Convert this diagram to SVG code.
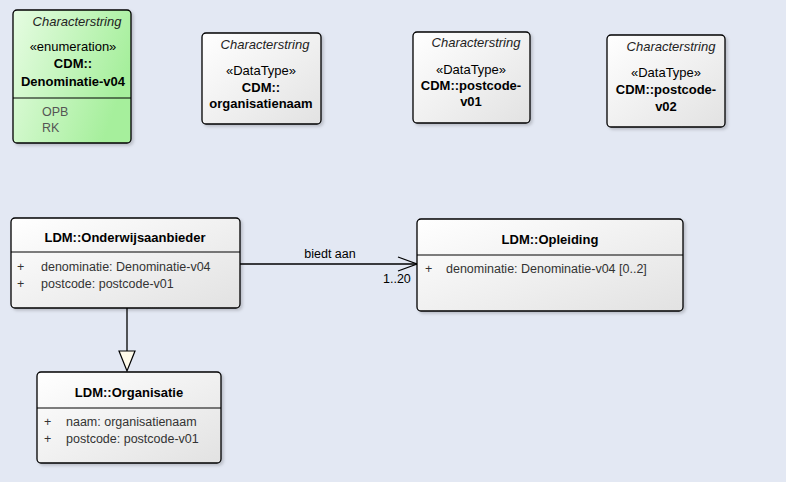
<svg xmlns="http://www.w3.org/2000/svg" width="786" height="482" viewBox="0 0 786 482">
<defs>
<linearGradient id="gw" x1="0" y1="0" x2="1" y2="1"><stop offset="0" stop-color="#ffffff"/><stop offset="1" stop-color="#e2e2e2"/></linearGradient>
<linearGradient id="gg" x1="0" y1="0" x2="1" y2="0.4"><stop offset="0" stop-color="#e6fce2"/><stop offset="1" stop-color="#a6ef9c"/></linearGradient>
<filter id="sh" x="-10%" y="-10%" width="130%" height="130%"><feDropShadow dx="2" dy="2" stdDeviation="1.5" flood-color="#000" flood-opacity="0.18"/></filter>
</defs>
<style>
text{font-family:"Liberation Sans",Arial,sans-serif;font-size:13px;fill:#000}
.it{font-style:italic;fill:#222}
.b{font-weight:bold}
.c{text-anchor:middle}
.a{fill:#333;font-size:12.5px}
.box{fill:url(#gw);stroke:#000;stroke-width:1.3;filter:url(#sh)}
.div{stroke:#000;stroke-width:1}
.ln{stroke:#000;stroke-width:1.3;fill:none}
</style>
<rect width="786" height="482" fill="#e3e8f3"/>

<g id="enum-denominatie">
<rect x="13" y="10" width="118" height="133" rx="4" fill="url(#gg)" stroke="#000" stroke-width="1.3" filter="url(#sh)"/>
<line class="div" x1="13" y1="98" x2="131" y2="98"/>
<text class="it c" x="77" y="26">Characterstring</text>
<text class="c" x="73" y="51">«enumeration»</text>
<text class="b c" x="73" y="68">CDM::</text>
<text class="b c" x="73" y="86">Denominatie-v04</text>
<text class="a" x="42" y="116" style="fill:#555">OPB</text>
<text class="a" x="42" y="132" style="fill:#555">RK</text>
</g>

<g id="dt-organisatienaam">
<rect class="box" x="202" y="33" width="119" height="91" rx="4"/>
<text class="it c" x="265" y="49">Characterstring</text>
<text class="c" x="261" y="75">«DataType»</text>
<text class="b c" x="261" y="92">CDM::</text>
<text class="b c" x="261" y="108">organisatienaam</text>
</g>

<g id="dt-postcode-v01">
<rect class="box" x="413" y="32" width="117" height="91" rx="4"/>
<text class="it c" x="476" y="47">Characterstring</text>
<text class="c" x="471" y="74">«DataType»</text>
<text class="b c" x="471" y="90">CDM::postcode-</text>
<text class="b c" x="471" y="106">v01</text>
</g>

<g id="dt-postcode-v02">
<rect class="box" x="607" y="35" width="118" height="92" rx="4"/>
<text class="it c" x="671" y="51">Characterstring</text>
<text class="c" x="666" y="77">«DataType»</text>
<text class="b c" x="666" y="94">CDM::postcode-</text>
<text class="b c" x="666" y="111">v02</text>
</g>

<g id="connectors">
<line class="ln" x1="240" y1="264" x2="417" y2="264"/>
<polyline class="ln" points="398,257 417,264 398,271"/>
<text class="c" x="330" y="258" style="font-size:12.5px">biedt aan</text>
<text x="383" y="283" style="font-size:12.5px">1..20</text>
<line class="ln" x1="127" y1="308" x2="127" y2="351"/>
<polygon points="119,351 135,351 127,371" fill="#fffbea" stroke="#000" stroke-width="1.2"/>
</g>

<g id="ldm-onderwijsaanbieder">
<rect class="box" x="11" y="218" width="229" height="90" rx="4"/>
<line class="div" x1="11" y1="252" x2="240" y2="252"/>
<text class="b c" x="125" y="242">LDM::Onderwijsaanbieder</text>
<text class="a" x="17" y="271">+</text>
<text class="a" x="41" y="271">denominatie: Denominatie-v04</text>
<text class="a" x="17" y="288">+</text>
<text class="a" x="41" y="288">postcode: postcode-v01</text>
</g>

<g id="ldm-opleiding">
<rect class="box" x="417" y="219" width="266" height="92" rx="4"/>
<line class="div" x1="417" y1="255" x2="683" y2="255"/>
<text class="b c" x="550" y="244">LDM::Opleiding</text>
<text class="a" x="425" y="273">+</text>
<text class="a" x="446" y="273">denominatie: Denominatie-v04 [0..2]</text>
</g>

<g id="ldm-organisatie">
<rect class="box" x="37" y="372" width="184" height="91" rx="4"/>
<line class="div" x1="37" y1="408" x2="221" y2="408"/>
<text class="b c" x="129" y="397">LDM::Organisatie</text>
<text class="a" x="44" y="426">+</text>
<text class="a" x="66" y="426">naam: organisatienaam</text>
<text class="a" x="44" y="443">+</text>
<text class="a" x="66" y="443">postcode: postcode-v01</text>
</g>
</svg>
